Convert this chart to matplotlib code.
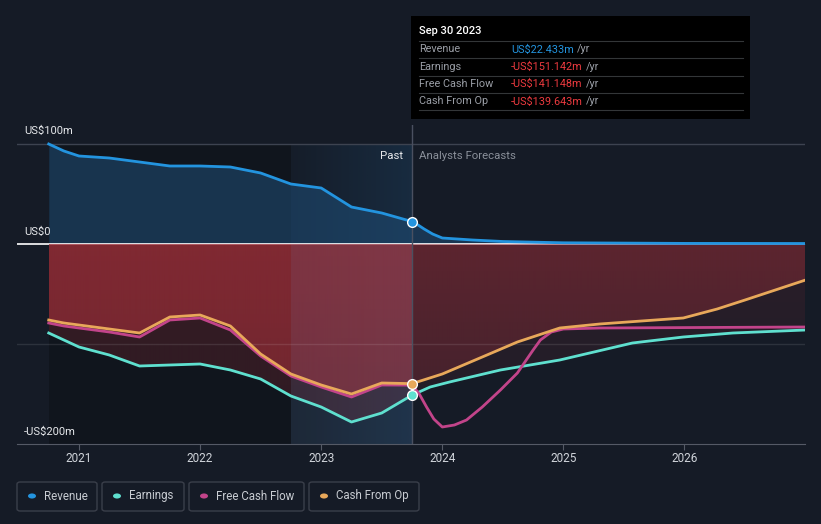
import numpy as np
import matplotlib.pyplot as plt
from matplotlib.patches import Rectangle, FancyBboxPatch, Circle
from matplotlib.colors import to_rgb

plt.rcParams['font.family'] = ['Roboto', 'DejaVu Sans']

W, H = 821, 524
BG = '#151b26'

# --- data (US$m), decimal years ---
past_x = [2020.75, 2020.875, 2021.0, 2021.25, 2021.5, 2021.75, 2022.0, 2022.25,
          2022.5, 2022.75, 2023.0, 2023.25, 2023.5, 2023.75]
revenue_past = [100, 93, 88, 86, 82, 78, 78, 77, 71, 60, 56, 37, 31, 22.433]
earnings_past = [-89, -96, -103, -111, -122, -121, -120, -126, -135, -152, -163, -178, -169, -151.142]
fcf_past = [-79, -82, -84, -88, -93, -76, -74, -86, -112, -132, -143, -153, -141, -141.148]
cfo_past = [-76, -79, -81, -85, -89, -73, -71, -82, -110, -130, -141, -150, -139, -139.643]

rev_fc_x = [2023.75, 2023.8, 2023.85, 2023.92, 2024.0, 2024.25, 2024.5, 2025.0, 2026.0, 2027.0]
revenue_fc = [22.433, 19, 15, 10, 6, 4, 2.5, 1.2, 0.6, 0.5]
earn_fc_x = [2023.75, 2023.9, 2024.06, 2024.48, 2024.97, 2025.57, 2025.99, 2026.4, 2027.0]
earnings_fc = [-151.142, -143, -138, -126, -116, -99, -93, -89, -86]
fcf_fc_x = [2023.75, 2023.81, 2023.87, 2023.93, 2024.0, 2024.1, 2024.2, 2024.33, 2024.48,
            2024.62, 2024.75, 2024.81, 2024.9, 2025.0, 2025.3, 2027.0]
fcf_fc = [-141.148, -150, -163, -175, -183, -181, -176, -163, -146,
          -129, -106, -96, -88, -85, -84, -83]
cfo_fc_x = [2023.75, 2024.0, 2024.33, 2024.62, 2024.97, 2025.3, 2025.99, 2026.27, 2026.5,
            2026.75, 2027.0]
cfo_fc = [-139.643, -130, -113, -98, -84, -80, -74, -65, -56, -46, -36]

year_ticks = [2021, 2022, 2023, 2024, 2025, 2026]

C_REV = '#2394df'
C_EARN = '#5fe0cf'
C_FCF = '#c2448a'
C_CFO = '#e8a85a'
C_RED = '#a5303a'


def fx(px):
    return px / W


def fy(py):
    return 1 - py / H


def join(xa, ya, xb, yb):
    return np.array(xa + xb[1:]), np.array(ya + yb[1:])


fig = plt.figure(figsize=(W / 100, H / 100), dpi=100, facecolor=BG)
ax = fig.add_axes([fx(17), fy(444), fx(805) - fx(17), fy(125) - fy(444)])
ax.set_facecolor(BG)
X0 = 2021 + (17 - 79) / 121.1
X1 = 2021 + (805 - 79) / 121.1
split = 2023.75
start = 2020.75
top_frac = 300 / 319

# past background shading
ax.axvspan(start, 2022.75, ymax=top_frac, color='black', alpha=0.22, lw=0, zorder=0)
grad = np.linspace(0, 1, 100).reshape(1, -1)
blue = np.zeros((1, 100, 4))
blue[..., :3] = to_rgb('#1e4a70')
blue[..., 3] = 0.05 + 0.3 * grad
ax.imshow(blue, extent=[2022.75, split, -200, 100], aspect='auto', zorder=0.5)

# revenue fill
rx, ry = join(past_x, revenue_past, rev_fc_x, revenue_fc)
ax.fill_between(rx, 0, ry, color='#1f4e78', alpha=0.55, lw=0, zorder=1)

ax.axhline(0, color='white', lw=1.2, zorder=1)
ax.axhline(100, color='#3d4350', lw=1, zorder=0.6)
ax.axhline(-100, color='white', alpha=0.1, lw=1, zorder=3)


def red_fill(xs, ys, a_past_top, a_past_bot, a_fc_top, a_fc_bot):
    poly = ax.fill_between(xs, 0, ys, facecolor='none', edgecolor='none')
    gx = np.linspace(start, 2027, 300)
    gy = np.linspace(0, -200, 200)
    GX, GY = np.meshgrid(gx, gy)
    t = np.clip(-GY / 160, 0, 1)
    a = np.where(GX < split, a_past_top + (a_past_bot - a_past_top) * t,
                 a_fc_top + (a_fc_bot - a_fc_top) * t)
    img = np.zeros((200, 300, 4))
    img[..., :3] = to_rgb(C_RED)
    img[..., 3] = a
    im = ax.imshow(img, extent=[start, 2027, -200, 0], aspect='auto', zorder=2)
    im.set_clip_path(poly.get_paths()[0], ax.transData)


ex, ey = join(past_x, earnings_past, earn_fc_x, earnings_fc)
cx, cy = join(past_x, cfo_past, cfo_fc_x, cfo_fc)
red_fill(ex, ey, 0.25, 0.22, 0.14, 0.1)
red_fill(cx, cy, 0.68, 0.55, 0.42, 0.25)

# highlight tint on last past year
ax.axvspan(2022.75, split, ymin=0, ymax=200 / 319, color='#6b8bb5', alpha=0.1, lw=0, zorder=2.5)

# lines
fx_, fy_ = join(past_x, fcf_past, fcf_fc_x, fcf_fc)
ax.plot(rx, ry, color=C_REV, lw=2, zorder=4, solid_joinstyle='round')
ax.plot(ex, ey, color=C_EARN, lw=2, zorder=4, solid_joinstyle='round')
ax.plot(fx_, fy_, color=C_FCF, lw=2, zorder=4, solid_joinstyle='round')
ax.plot(cx, cy, color=C_CFO, lw=2, zorder=4.1, solid_joinstyle='round')

ax.axvline(split, color='#4a5060', lw=1, zorder=3)

for val, col in [(revenue_past[-1], C_REV), (earnings_past[-1], C_EARN), (cfo_past[-1], C_CFO)]:
    ax.plot([split], [val], 'o', ms=7, mfc=col, mec='white', mew=1, zorder=5)

ax.set_xlim(X0, X1)
ax.set_ylim(-200, 119)
for s in ['top', 'right', 'left']:
    ax.spines[s].set_visible(False)
ax.spines['bottom'].set_color('#555a66')
ax.set_yticks([])
ax.set_xticks(year_ticks)
ax.set_xticklabels([str(y) for y in year_ticks])
ax.tick_params(axis='x', colors='#555a66', labelcolor='#d0d4da', labelsize=8.5, length=4, pad=2)

# axis labels
fig.text(fx(24), fy(131), 'US$100m', color='#e6e8eb', fontsize=8, va='center')
fig.text(fx(24), fy(232), 'US$0', color='#e6e8eb', fontsize=8, va='center')
fig.text(fx(24), fy(432), '-US$200m', color='#e6e8eb', fontsize=8, va='center')
fig.text(fx(403), fy(156), 'Past', color='#e6e8eb', fontsize=8.2, va='center', ha='right')
fig.text(fx(419), fy(156), 'Analysts Forecasts', color='#8a909a', fontsize=8.2, va='center')

# tooltip
fig.add_artist(Rectangle((fx(411), fy(119)), fx(750) - fx(411), fy(16) - fy(119),
                         transform=fig.transFigure, facecolor='black', edgecolor='none', zorder=10))
fig.text(fx(419), fy(31), 'Sep 30 2023', color='white', fontsize=8, va='center', zorder=11,
         fontweight='medium')
for yy in [41, 58, 76, 93, 110]:
    fig.add_artist(plt.Line2D([fx(419), fx(743)], [fy(yy), fy(yy)], transform=fig.transFigure,
                              color='#333638', lw=0.8, zorder=11))
tip_labels = ['Revenue', 'Earnings', 'Free Cash Flow', 'Cash From Op']
tip_values = ['US$22.433m', '-US$151.142m', '-US$141.148m', '-US$139.643m']
tip_colors = [C_REV, '#ec3a3f', '#ec3a3f', '#ec3a3f']
renderer = fig.canvas.get_renderer()
for i, (lab, val, col) in enumerate(zip(tip_labels, tip_values, tip_colors)):
    yy = fy(49.5 + i * 17.3)
    fig.text(fx(419), yy, lab, color='#9a9ea6', fontsize=7.8, va='center', zorder=11)
    t = fig.text(fx(511), yy, val, color=col, fontsize=7.8, va='center', zorder=11)
    bb = t.get_window_extent(renderer)
    fig.text(bb.x1 / W + fx(3), yy, '/yr', color='#9a9ea6', fontsize=7.8, va='center', zorder=11)

# legend
leg_names = ['Revenue', 'Earnings', 'Free Cash Flow', 'Cash From Op']
leg_colors = [C_REV, C_EARN, C_FCF, C_CFO]
leg_boxes = [(17, 97), (102, 184), (189, 304), (309, 419)]
for name, col, (l, r) in zip(leg_names, leg_colors, leg_boxes):
    fig.add_artist(FancyBboxPatch((fx(l), fy(511)), fx(r) - fx(l), fy(482) - fy(511),
                                  boxstyle='round,pad=0,rounding_size=0.004',
                                  transform=fig.transFigure, facecolor='none',
                                  edgecolor='#3a3f4a', lw=1))
    fig.add_artist(Circle((fx(l + 15), fy(496)), 4 / W, transform=fig.transFigure,
                          facecolor=col, edgecolor='none'))
    fig.text(fx(l + 27), fy(496), name, color='#c8ccd2', fontsize=8.3, va='center')

fig.savefig('out.png', dpi=100, facecolor=BG)
